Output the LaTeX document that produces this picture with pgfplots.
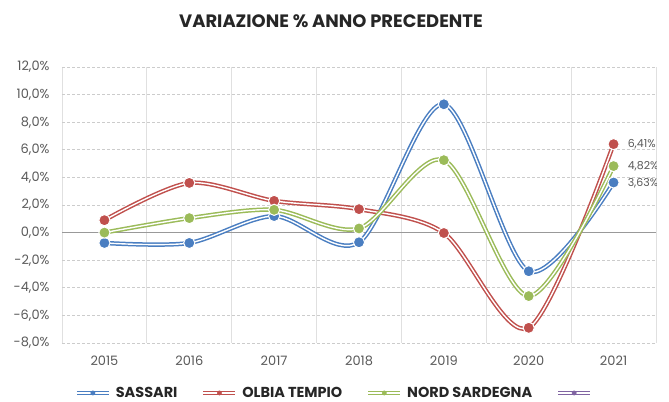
\documentclass[border=0pt]{standalone}
\usepackage{fontspec}
\setmainfont{Poppins}
\usepackage{pgfplots}
\pgfplotsset{compat=1.18}
\definecolor{cB}{HTML}{4A7EC1}
\definecolor{cR}{HTML}{C0504D}
\definecolor{cG}{HTML}{9BBB59}
\definecolor{cP}{HTML}{8064A2}
\definecolor{lblgray}{HTML}{595959}
\definecolor{ttl}{HTML}{262626}
\pgfplotsset{
  dbl/.style={legend image code/.code={
    \draw[#1, line width=1.3bp, double=white, double distance=1.3bp] (0bp,0bp) -- (32bp,0bp);
    \fill[#1] (16bp,0bp) circle (2.2bp);}},
}
\newcommand{\tickfont}{\fontsize{13}{15}\selectfont}
\begin{document}
\begin{tikzpicture}[x=1bp,y=1bp]
\begin{axis}[
  at={(62bp,58bp)}, anchor=south west,
  scale only axis, width=594bp, height=276bp,
  xmin=-0.5, xmax=6.5, ymin=-8, ymax=12,
  xtick={0,1,2,3,4,5,6},
  xticklabels={2015,2016,2017,2018,2019,2020,2021},
  minor xtick={-0.5,0.5,1.5,2.5,3.5,4.5,5.5,6.5},
  xminorgrids=true,
  ytick={-8,-6,-4,-2,0,2,4,6,8,10,12},
  yticklabels={{-8,0\%},{-6,0\%},{-4,0\%},{-2,0\%},{0,0\%},{2,0\%},{4,0\%},{6,0\%},{8,0\%},{10,0\%},{12,0\%}},
  ymajorgrids=true,
  y grid style={dash pattern=on 3bp off 2bp, color=black!20, line width=0.8bp},
  minor x grid style={solid, color=black!12, line width=0.8bp},
  axis line style={draw=none},
  major tick length=0pt, minor tick length=0pt,
  yticklabel style={font=\tickfont, text=lblgray, xshift=-9bp},
  xticklabel style={font=\tickfont, text=lblgray, yshift=-9bp},
  legend style={at={(0.463,-0.181)}, anchor=center, legend columns=4, draw=none, fill=none,
    font=\fontsize{14.5}{16}\selectfont\bfseries, text=ttl,
    /tikz/every even column/.append style={column sep=22bp},
    /tikz/every odd column/.append style={column sep=3bp}},
  legend cell align=left,
]
\addplot[gray!80, line width=0.8bp, forget plot] coordinates {(-0.5,0) (6.5,0)};
% lines
\addplot[cB, line width=1.5bp, double=white, double distance=1.4bp, smooth, tension=0.5, forget plot] coordinates {
(0,-0.75) (1,-0.75) (2,1.2) (3,-0.7) (4,9.3) (5,-2.8) (6,3.63)};
\addplot[cR, line width=1.5bp, double=white, double distance=1.4bp, smooth, tension=0.5, forget plot] coordinates {
(0,0.9) (1,3.6) (2,2.3) (3,1.7) (4,-0.03) (5,-6.9) (6,6.41)};
\addplot[cG, line width=1.5bp, double=white, double distance=1.4bp, smooth, tension=0.5, forget plot] coordinates {
(0,0.0) (1,1.05) (2,1.65) (3,0.3) (4,5.25) (5,-4.6) (6,4.82)};
% marks
\addplot[only marks, mark=*, mark size=5.6bp, mark options={fill=cB, draw=white, line width=1bp}, forget plot] coordinates {
(0,-0.75) (1,-0.75) (2,1.2) (3,-0.7) (4,9.3) (5,-2.8) (6,3.63)};
\addplot[only marks, mark=*, mark size=5.6bp, mark options={fill=cR, draw=white, line width=1bp}, forget plot] coordinates {
(0,0.9) (1,3.6) (2,2.3) (3,1.7) (4,-0.03) (5,-6.9) (6,6.41)};
\addplot[only marks, mark=*, mark size=5.6bp, mark options={fill=cG, draw=white, line width=1bp}, forget plot] coordinates {
(0,0.0) (1,1.05) (2,1.65) (3,0.3) (4,5.25) (5,-4.6) (6,4.82)};
% legend
\addlegendimage{dbl, cB}\addlegendentry{SASSARI}
\addlegendimage{dbl, cR}\addlegendentry{OLBIA TEMPIO}
\addlegendimage{dbl, cG}\addlegendentry{NORD SARDEGNA}
\addlegendimage{dbl, cP}\addlegendentry{}
% data labels
\node[anchor=west, font=\fontsize{11}{13}\selectfont, text=lblgray, inner sep=0bp, xshift=14bp] at (axis cs:6,6.41) {6,41\%};
\draw[gray, line width=0.6bp] (axis cs:6,4.82) ++(8bp,0) -- ++(5bp,0);
\node[anchor=west, font=\fontsize{11}{13}\selectfont, text=lblgray, inner sep=0bp, xshift=14bp] at (axis cs:6,4.82) {4,82\%};
\node[anchor=west, font=\fontsize{11}{13}\selectfont, text=lblgray, inner sep=0bp, xshift=14bp] at (axis cs:6,3.6) {3,63\%};
\end{axis}
\node[font=\fontsize{18}{20}\selectfont\bfseries, text=ttl] at (331,380) {VARIAZIONE \% ANNO PRECEDENTE};
\pgfresetboundingbox
\path (0,0) rectangle (669,401);
\end{tikzpicture}
\end{document}
